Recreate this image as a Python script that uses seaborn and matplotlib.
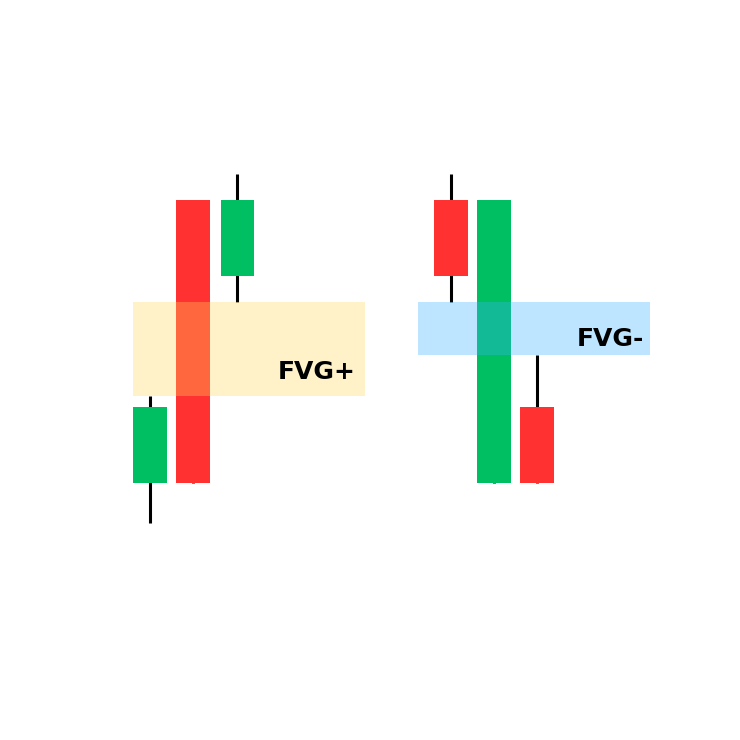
import matplotlib
matplotlib.use("Agg")
import matplotlib.pyplot as plt
import seaborn as sns
import numpy as np

sns.set_theme(style="white")
plt.rcParams['font.family'] = ['DejaVu Sans']

# candles: two three-candle patterns
candle_x = [1, 2, 3.03, 8, 9, 10]
opens = [25.7, 54.0, 46.4, 54.0, 25.7, 33.3]
closes = [33.3, 25.7, 54.0, 46.4, 54.0, 25.7]
highs = [34.4, 54.0, 56.6, 56.6, 54.0, 38.5]
lows = [21.7, 25.7, 43.8, 43.8, 25.7, 25.7]

# fair value gap zones
zone_labels = ["FVG+", "FVG-"]
zone_start = [0.605, 7.23]
zone_end = [6.0, 12.63]
zone_bottom = [34.4, 38.5]
zone_top = [43.8, 43.8]
zone_colors = ["#FFDA5A", "#38B1FF"]
label_x = [5.79, 12.48]
label_y = [36.8, 40.1]

up_color = "#00BF63"
down_color = "#FF3131"

fig = plt.figure(figsize=(7.4, 7.4), dpi=100)
ax = fig.add_axes([0, 0, 1, 1])

opens_a = np.array(opens)
closes_a = np.array(closes)
colors = [up_color if c > o else down_color for o, c in zip(opens, closes)]

# wicks
wicks = ax.vlines(candle_x, lows, highs, color="black", linewidth=2.2, zorder=1)
wicks.set_capstyle("butt")
# bodies
ax.bar(candle_x, closes_a - opens_a, bottom=opens_a, width=0.78,
       color=colors, linewidth=0, zorder=2)

# zones + labels
for i, lab in enumerate(zone_labels):
    ax.fill_between([zone_start[i], zone_end[i]], zone_bottom[i], zone_top[i],
                    color=zone_colors[i], alpha=0.33, linewidth=0, zorder=3)
    ax.text(label_x[i], label_y[i], lab, ha="right", va="center",
            fontsize=18, fontweight="bold", color="black", zorder=4)

ax.set_xlim(-107 / 43, (740 - 107) / 43)
ax.set_ylim(0, 74)
ax.axis("off")

fig.savefig("out.png", dpi=100, facecolor="white")
